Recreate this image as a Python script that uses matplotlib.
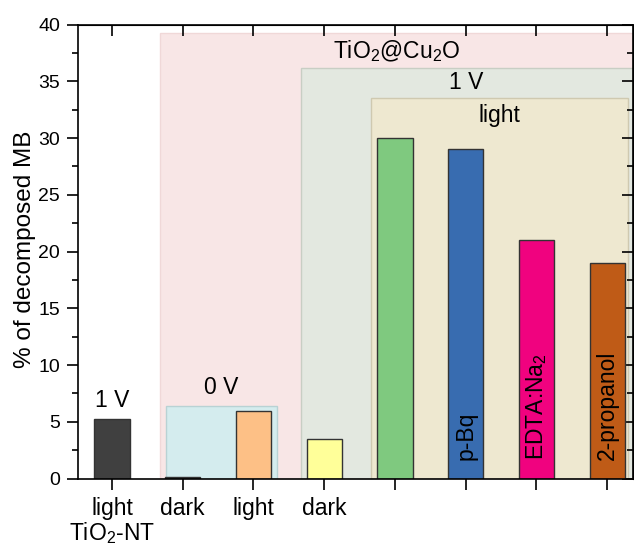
import matplotlib.pyplot as plt
from matplotlib.patches import Rectangle
from matplotlib.ticker import MultipleLocator

plt.rcParams['font.family'] = ['Liberation Sans', 'DejaVu Sans']
plt.rcParams['mathtext.fontset'] = 'custom'
plt.rcParams['mathtext.rm'] = 'Liberation Sans'

# bar data
positions = [1, 2, 3, 4, 5, 6, 7, 8]
values = [5.25, 0.1, 6.0, 3.5, 30.0, 29.0, 21.0, 19.0]
colors = ['#404040', '#404040', '#fdc086', '#ffff99', '#7fc97f', '#386cb0', '#f0027f', '#bf5b17']
tick_labels = ['light\nTiO$_\\mathrm{2}$-NT', 'dark', 'light', 'dark', '', '', '', '']
inside_labels = ['', '', '', '', '', 'p-Bq', 'EDTA:Na$_\\mathrm{2}$', '2-propanol']

fig = plt.figure(figsize=(6.34, 5.47), dpi=100)
ax = fig.add_axes([0.123, 0.125, 0.876, 0.830])

# shaded group boxes (x0, x1, top, face, edge)
boxes = [
    (1.68, 8.6, 39.3, '#f8e6e6', '#f0d8d8'),
    (3.67, 8.36, 36.2, '#e3e8e0', '#c8cec4'),
    (4.66, 8.30, 33.5, '#eee8d0', '#cfc9b0'),
    (1.76, 3.34, 6.43, '#d4ecee', '#b8d2d4'),
]
for x0, x1, top, fc, ec in boxes:
    ax.add_patch(Rectangle((x0, 0), x1 - x0, top, facecolor=fc, edgecolor=ec,
                           linewidth=1, zorder=0))

ax.bar(positions, values, width=0.5, color=colors, edgecolor='#333333',
       linewidth=1, zorder=2)

fs = 16.5
for x, lab in zip(positions, inside_labels):
    if lab:
        ax.text(x, 1.65, lab, rotation=90, ha='center', va='bottom', fontsize=fs, zorder=3)

ax.text(5.03, 37.7, 'TiO$_\\mathrm{2}$@Cu$_\\mathrm{2}$O', ha='center', va='center', fontsize=fs)
ax.text(6.0, 34.9, '1 V', ha='center', va='center', fontsize=fs)
ax.text(6.47, 32.0, 'light', ha='center', va='center', fontsize=fs)
ax.text(2.55, 8.0, '0 V', ha='center', va='center', fontsize=fs)
ax.text(1.0, 6.9, '1 V', ha='center', va='center', fontsize=fs)

ax.set_xlim(0.52, 8.37)
ax.set_ylim(0, 40)
ax.set_xticks(positions)
ax.set_xticklabels(tick_labels, fontsize=fs, linespacing=1.0)
ax.yaxis.set_major_locator(MultipleLocator(5))
ax.yaxis.set_minor_locator(MultipleLocator(2.5))
ax.set_ylabel('% of decomposed MB', fontsize=17.5, labelpad=-1)
ax.yaxis.set_label_coords(-0.075, 0.505)
ax.tick_params(axis='y', labelsize=14, pad=5)
ax.tick_params(axis='x', pad=5)
ax.tick_params(which='major', width=1.2, length=8, direction='out')
ax.tick_params(which='minor', length=4, width=1.2)
for spine in ax.spines.values():
    spine.set_linewidth(1.2)

# inward ticks on top and right
sec = ax.secondary_xaxis('top')
sec.set_xticks(positions, labels=[])
sec.tick_params(direction='in', length=8, width=1.2)
secy = ax.secondary_yaxis('right')
secy.yaxis.set_major_locator(MultipleLocator(5))
secy.yaxis.set_minor_locator(MultipleLocator(2.5))
secy.tick_params(direction='in', length=8, width=1.2, labelright=False)
secy.tick_params(which='minor', direction='in', length=4, width=1.2)

fig.savefig('out.png', dpi=100)
